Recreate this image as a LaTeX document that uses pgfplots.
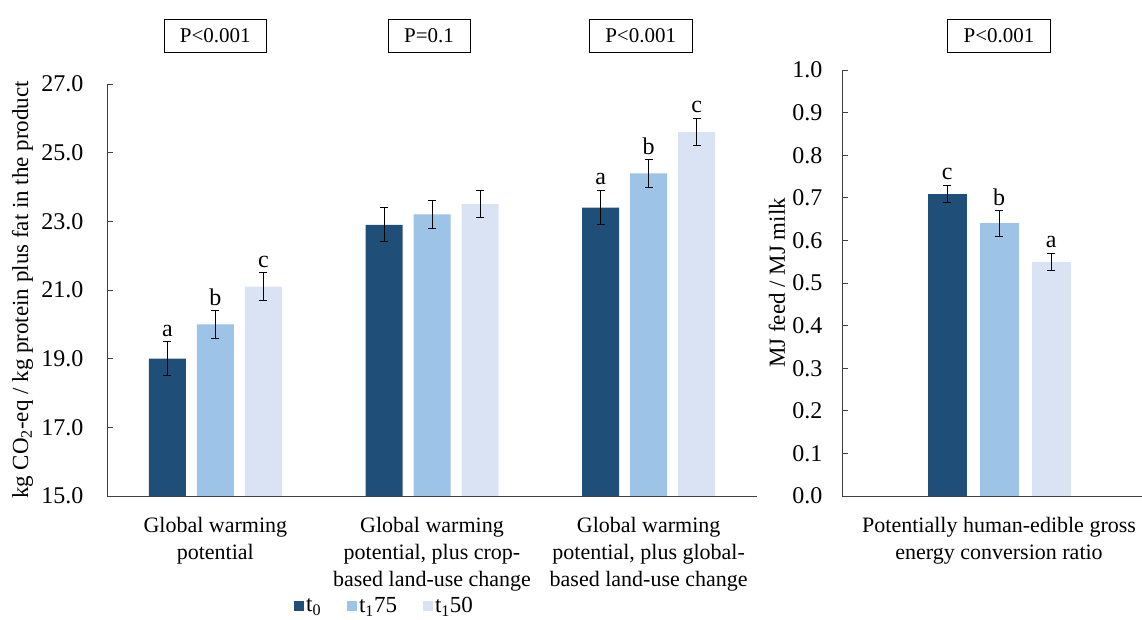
\documentclass[border=0pt]{standalone}
\usepackage{fontspec}
\setmainfont{Liberation Serif}
\usepackage{pgfplots}
\pgfplotsset{compat=1.18}

\definecolor{cDark}{HTML}{1F4E79}
\definecolor{cMid}{HTML}{9DC3E6}
\definecolor{cLight}{HTML}{DAE3F3}
\definecolor{axisgray}{HTML}{404040}

% Left panel: three emission indicators (mean, SE)
\pgfplotstableread{
x   y    err
0.5 19.0 0.5
1.5 22.9 0.5
2.5 23.4 0.5
}\gwpTzero
\pgfplotstableread{
x   y    err
0.5 20.0 0.4
1.5 23.2 0.4
2.5 24.4 0.4
}\gwpTonefive
\pgfplotstableread{
x   y    err
0.5 21.1 0.4
1.5 23.5 0.4
2.5 25.6 0.4
}\gwpTonefifty

% Right panel: conversion ratio
\pgfplotstableread{
x   y    err
0.5 0.71 0.02
}\heTzero
\pgfplotstableread{
x   y    err
0.5 0.64 0.03
}\heTonefive
\pgfplotstableread{
x   y    err
0.5 0.55 0.02
}\heTonefifty

\tikzset{
  pbox/.style={draw=black, line width=0.7pt, fill=white, inner xsep=16pt,
    minimum height=33pt, font=\fontsize{21}{25}\selectfont},
}

\pgfplotsset{
  panel/.style={
    scale only axis,
    anchor=south west,
    clip=false,
    ybar,
    axis x line=bottom,
    axis y line=left,
    axis line style={-, axisgray, line width=0.9pt},
    tick align=inside,
    major tick length=6pt,
    ytick style={axisgray, line width=0.9pt},
    xtick style={draw=none},
    font=\fontsize{22}{27}\selectfont,
    yticklabel style={font=\fontsize{24}{28}\selectfont,
      /pgf/number format/fixed, /pgf/number format/fixed zerofill,
      /pgf/number format/precision=1,
      /pgf/number format/assume math mode=true},
    xticklabel style={align=center, yshift=-18pt},
    error bars/y dir=both,
    error bars/y explicit,
    error bars/error bar style={black, line width=0.9pt},
    error bars/error mark options={rotate=90, black, mark size=4pt, line width=0.9pt},
    every node near coord/.append style={text=black, inner sep=5pt,
      font=\fontsize{24}{28}\selectfont},
  },
}

\begin{document}
\begin{tikzpicture}
\path[use as bounding box] (0,0) rectangle (1142pt,620pt);

\begin{axis}[panel,
  at={(107pt,124pt)}, width=650pt, height=412pt,
  bar width=37pt,
  xmin=0, xmax=3, ymin=15, ymax=27,
  ytick={15,17,19,21,23,25,27},
  yticklabel style={xshift=-20pt},
  xtick={0.5,1.5,2.5},
  xticklabels={{Global warming\\potential},
               {Global warming\\potential, plus crop-\\based land-use change},
               {Global warming\\potential, plus global-\\based land-use change}},
  ylabel={kg CO\textsubscript{2}-eq / kg protein plus fat in the product},
  ylabel style={at={(axis description cs:-0.130,0.5)}, anchor=center,
    font=\fontsize{23}{27}\selectfont},
  legend style={draw=none, legend columns=-1, at={(0.427,-0.267)}, anchor=center,
    font=\fontsize{23}{27}\selectfont, inner sep=0pt,
    /tikz/every even column/.append style={column sep=24pt}},
  legend image code/.code={\fill[#1] (0pt,-5pt) rectangle (10pt,5pt);},
]
\addplot[fill=cDark, draw=none, bar shift=-48pt] table[x=x, y=y, y error=err]{\gwpTzero};
\addplot[fill=cMid, draw=none, bar shift=0pt] table[x=x, y=y, y error=err]{\gwpTonefive};
\addplot[fill=cLight, draw=none, bar shift=48pt] table[x=x, y=y, y error=err]{\gwpTonefifty};
\legend{t\textsubscript{0}, t\textsubscript{1}75, t\textsubscript{1}50}

% letters of significance, placed above the error bars
\addplot[draw=none, fill=none, bar shift=-48pt, forget plot,
  nodes near coords, point meta=explicit symbolic]
  coordinates {(0.5,19.5)[a] (2.5,23.9)[a]};
\addplot[draw=none, fill=none, bar shift=0pt, forget plot,
  nodes near coords, point meta=explicit symbolic]
  coordinates {(0.5,20.4)[b] (2.5,24.8)[b]};
\addplot[draw=none, fill=none, bar shift=48pt, forget plot,
  nodes near coords, point meta=explicit symbolic]
  coordinates {(0.5,21.5)[c] (2.5,26.0)[c]};

\node[pbox] at (axis cs:0.5,27) [yshift=48pt] {P<0.001};
\node[pbox] at (axis cs:1.5,27) [yshift=48pt, xshift=-3pt] {P=0.1};
\node[pbox] at (axis cs:2.5,27) [yshift=48pt, xshift=-8pt] {P<0.001};
\end{axis}

\begin{axis}[panel,
  at={(842pt,124pt)}, width=300pt, height=426pt,
  bar width=39pt,
  xmin=0, xmax=0.955, ymin=0, ymax=1,
  ytick={0,0.1,...,1.0},
  yticklabel style={xshift=-16pt},
  xtick={0.5},
  xticklabels={{Potentially human-edible gross\\energy conversion ratio}},
  ylabel={MJ feed / MJ milk},
  ylabel style={at={(axis description cs:-0.217,0.5)}, anchor=center,
    font=\fontsize{23}{27}\selectfont},
]
\addplot[fill=cDark, draw=none, bar shift=-52pt] table[x=x, y=y, y error=err]{\heTzero};
\addplot[fill=cMid, draw=none, bar shift=0pt] table[x=x, y=y, y error=err]{\heTonefive};
\addplot[fill=cLight, draw=none, bar shift=52pt] table[x=x, y=y, y error=err]{\heTonefifty};

\addplot[draw=none, fill=none, bar shift=-52pt, nodes near coords,
  point meta=explicit symbolic] coordinates {(0.5,0.73)[c]};
\addplot[draw=none, fill=none, bar shift=0pt, nodes near coords,
  point meta=explicit symbolic] coordinates {(0.5,0.67)[b]};
\addplot[draw=none, fill=none, bar shift=52pt, nodes near coords,
  point meta=explicit symbolic] coordinates {(0.5,0.57)[a]};

\node[pbox] at (axis cs:0.5,1) [yshift=34pt] {P<0.001};
\end{axis}
\end{tikzpicture}
\end{document}
